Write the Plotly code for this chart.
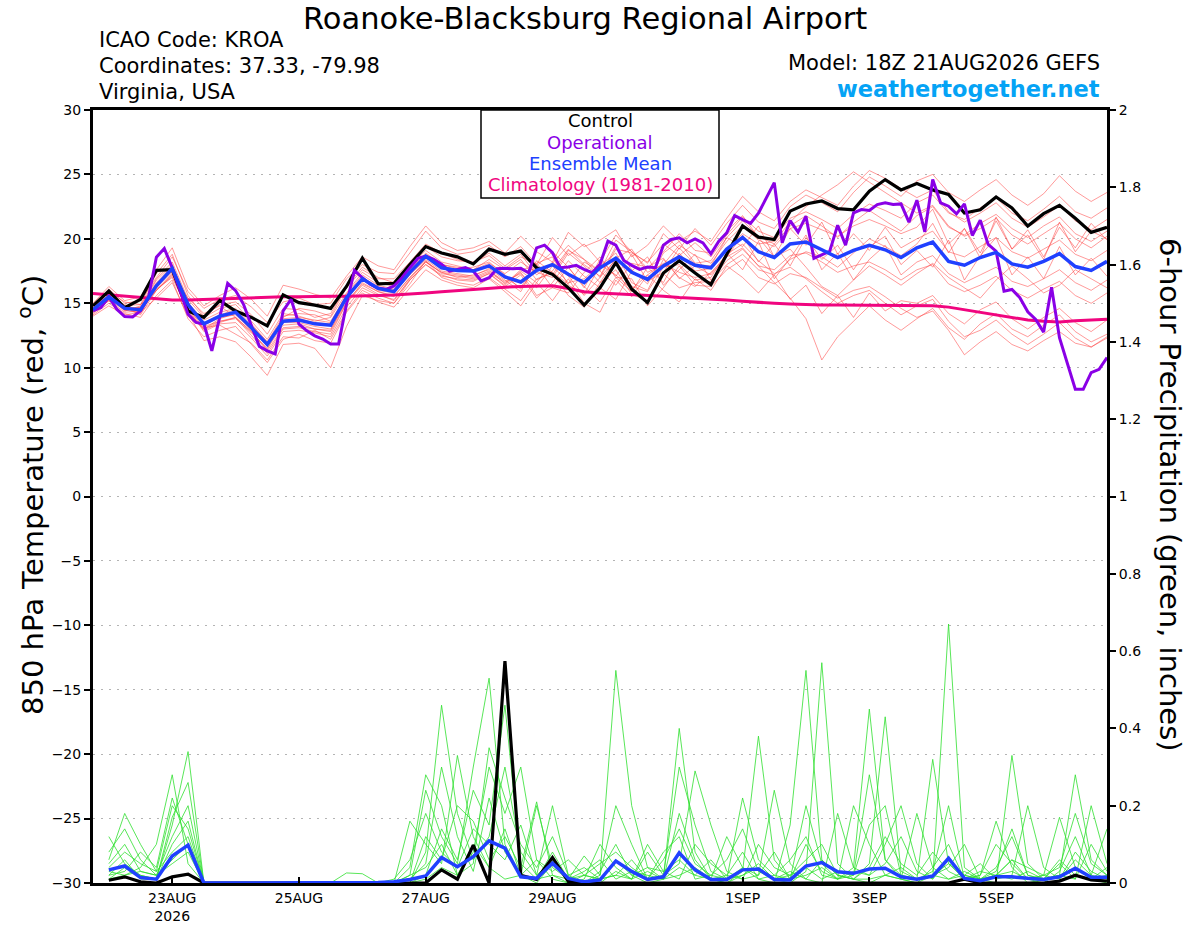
import pandas as pd
import plotly.graph_objects as go

# GEFS run 18Z 21AUG2026, 6-hourly out to 384 h (operational is 3-hourly)
RUN = "2026-08-21 18:00"
temp_times = pd.date_range(RUN, periods=65, freq="6h")
oper_times = pd.date_range(RUN, periods=129, freq="3h")
precip_times = pd.date_range("2026-08-22 00:00", periods=64, freq="6h")

tick_dates = ["2026-08-23", "2026-08-25", "2026-08-27", "2026-08-29",
              "2026-09-01", "2026-09-03", "2026-09-05"]
tick_labels = ["23AUG<br>2026", "25AUG", "27AUG", "29AUG", "1SEP", "3SEP", "5SEP"]

# 850 hPa temperature (C)
control_t = [14.8, 15.95, 14.65, 15.3, 17.55, 17.6, 14.4, 13.9, 15.2, 14.4, 13.9, 13.25, 15.65,
             15.05, 14.85, 14.6, 16.3, 18.5, 16.5, 16.55, 18.0, 19.4, 18.9, 18.6, 18.05, 19.2,
             18.8, 19.05, 17.75, 17.25, 16.2, 14.85, 16.2, 18.15, 16.1, 15.05, 17.35, 18.3, 17.35,
             16.45, 18.8, 21.0, 20.13, 19.95, 22.15, 22.7, 22.95, 22.35, 22.25, 23.7, 24.6, 23.8,
             24.3, 23.8, 23.45, 22.0, 22.25, 23.25, 22.4, 21.0, 21.95, 22.6, 21.6, 20.5, 20.9]

mean_t = [14.5, 15.5, 14.6, 14.5, 16.35, 17.7, 14.9, 13.4, 14.0, 14.3, 13.1, 11.8, 13.6,
          13.7, 13.4, 13.3, 15.45, 16.9, 16.15, 15.9, 17.4, 18.65, 17.75, 17.55, 17.5, 17.9,
          17.05, 16.65, 17.55, 18.0, 17.25, 16.6, 17.75, 18.5, 17.4, 16.85, 17.9, 18.6, 17.95,
          17.75, 19.2, 20.1, 19.0, 18.55, 19.6, 19.75, 19.15, 18.55, 19.1, 19.5, 19.15, 18.55,
          19.3, 19.75, 18.25, 17.95, 18.55, 18.95, 18.05, 17.8, 18.25, 18.85, 17.85, 17.55, 18.25]

clim_t = [15.75, 15.65, 15.55, 15.45, 15.3, 15.25, 15.25, 15.3, 15.35, 15.4, 15.45, 15.5, 15.5,
          15.5, 15.55, 15.55, 15.55, 15.55, 15.6, 15.65, 15.7, 15.8, 15.9, 16.0, 16.1, 16.2,
          16.25, 16.3, 16.35, 16.35, 16.15, 15.9, 15.8, 15.75, 15.65, 15.6, 15.55, 15.45, 15.4,
          15.3, 15.25, 15.15, 15.05, 15.0, 14.95, 14.9, 14.87, 14.87, 14.86, 14.85, 14.85, 14.85,
          14.85, 14.8, 14.7, 14.5, 14.25, 14.05, 13.9, 13.7, 13.6, 13.55, 13.65, 13.7, 13.75]

oper_t = [14.41, 14.66, 15.49, 14.54, 13.97, 13.94, 14.41, 15.44, 18.58, 19.25,
          17.76, 15.95, 14.15, 13.51, 13.38, 11.31, 13.89, 16.55, 15.98, 14.92,
          13.25, 11.65, 11.31, 11.06, 14.41, 15.31, 13.38, 12.86, 12.47, 12.22,
          11.83, 11.83, 14.92, 17.55, 16.98, 16.47, 16.16, 16.08, 16.34, 16.98,
          17.76, 18.48, 18.66, 18.4, 18.02, 17.5, 17.63, 17.76, 17.5, 16.73,
          16.98, 17.68, 17.71, 17.68, 17.71, 17.37, 19.3, 19.51, 18.92, 17.76,
          17.81, 17.94, 17.63, 17.37, 18.02, 19.82, 19.51, 18.32, 17.94, 17.63,
          17.81, 17.76, 19.51, 19.95, 20.08, 19.69, 20.0, 19.69, 18.84, 19.82,
          20.46, 21.8, 21.49, 21.2, 22.0, 23.18, 24.36, 19.69, 21.42, 20.52,
          21.76, 18.48, 18.79, 19.04, 21.06, 19.51, 22.02, 22.27, 22.2, 22.66,
          22.79, 22.66, 22.71, 21.29, 23.0, 20.54, 24.6, 22.79, 22.53, 21.94,
          22.71, 20.26, 21.45, 19.56, 19.04, 15.94, 16.07, 15.43, 14.34, 13.75,
          12.76, 16.25, 12.33, 10.26, 8.32, 8.32, 9.61, 9.87, 10.78]

members_t = [
    [14.9, 16.1, 15.0, 15.2, 17.0, 18.6, 15.9, 14.6, 15.3, 15.6, 14.7, 13.5, 15.1,
     15.4, 14.9, 15.0, 16.9, 18.0, 17.4, 17.3, 18.9, 20.6, 19.3, 18.8, 19.0, 19.5,
     18.6, 19.4, 18.0, 20.1, 18.7, 19.6, 18.2, 20.3, 19.0, 18.1, 20.4, 19.2, 20.8,
     19.5, 21.2, 22.6, 21.3, 20.8, 22.5, 23.4, 22.8, 22.1, 23.6, 24.8, 24.1, 23.3,
     24.5, 25.0, 23.6, 22.9, 23.8, 24.6, 23.4, 22.6, 23.5, 24.9, 23.7, 22.9, 23.6],
    [14.1, 15.0, 14.2, 13.9, 15.6, 16.8, 13.8, 12.4, 12.9, 13.2, 11.8, 10.4, 12.2,
     12.6, 12.1, 11.9, 14.3, 15.8, 15.1, 14.7, 16.2, 17.6, 16.8, 16.4, 16.2, 16.9,
     15.9, 14.8, 16.6, 15.2, 16.9, 15.0, 14.3, 16.8, 15.5, 17.2, 16.0, 15.1, 16.9,
     16.0, 17.9, 17.0, 15.8, 17.2, 15.3, 16.4, 14.2, 15.6, 13.9, 15.8, 14.4, 15.2,
     15.0, 15.6, 14.2, 13.4, 14.5, 15.1, 13.8, 13.0, 13.9, 14.6, 13.5, 12.8, 13.7],
    [14.6, 15.7, 14.4, 14.8, 16.9, 18.2, 15.3, 13.9, 14.6, 14.9, 13.6, 12.2, 14.2,
     14.0, 13.6, 13.9, 15.8, 17.4, 16.6, 16.3, 17.9, 19.1, 18.2, 17.9, 17.6, 18.4,
     17.6, 18.4, 16.8, 17.5, 19.2, 18.0, 17.1, 19.4, 17.6, 16.5, 18.9, 19.8, 18.1,
     18.3, 20.1, 21.4, 20.2, 19.6, 21.0, 21.8, 21.0, 20.1, 21.3, 22.2, 21.4, 20.6,
     21.8, 22.5, 20.9, 20.3, 21.2, 21.9, 20.8, 20.1, 21.0, 21.7, 20.4, 19.8, 20.6],
    [14.3, 15.3, 14.7, 14.1, 16.0, 17.3, 14.4, 12.9, 13.5, 13.9, 12.5, 11.1, 13.0,
     13.1, 12.8, 12.6, 15.0, 16.4, 15.7, 15.2, 16.9, 18.2, 17.4, 17.0, 17.2, 17.6,
     16.5, 17.6, 17.9, 16.2, 15.8, 17.4, 18.6, 17.0, 15.9, 17.8, 18.5, 16.9, 17.9,
     17.2, 18.6, 19.3, 17.9, 16.6, 15.4, 13.8, 10.6, 12.4, 13.6, 14.8, 13.7, 12.9,
     13.8, 14.6, 13.1, 12.2, 13.4, 14.2, 13.0, 12.4, 13.3, 14.1, 12.8, 12.0, 12.6],
    [14.8, 15.6, 14.5, 14.6, 16.6, 17.9, 15.1, 13.2, 13.6, 13.8, 12.7, 11.5, 13.3,
     13.4, 13.0, 12.9, 15.3, 16.8, 16.0, 15.8, 17.2, 18.4, 17.5, 17.3, 17.1, 17.7,
     16.8, 15.9, 18.1, 18.6, 16.4, 15.7, 17.9, 18.9, 16.6, 16.0, 18.4, 17.0, 16.3,
     17.4, 18.6, 20.3, 18.2, 19.6, 17.9, 20.1, 18.4, 19.5, 17.6, 19.4, 20.2, 18.0,
     19.1, 17.8, 19.9, 16.8, 18.7, 20.1, 17.2, 18.6, 16.9, 19.4, 17.2, 18.5, 17.1],
    [14.4, 15.4, 14.6, 14.3, 16.2, 17.4, 14.2, 12.1, 12.4, 12.0, 10.8, 9.4, 11.8,
     11.9, 11.5, 10.0, 13.2, 15.6, 15.2, 15.0, 16.8, 18.0, 17.2, 16.8, 16.7, 17.3,
     16.3, 17.2, 15.4, 16.6, 18.3, 17.1, 16.2, 15.3, 17.5, 18.6, 16.4, 17.6, 18.8,
     16.8, 18.3, 19.2, 17.9, 17.6, 18.7, 18.9, 18.2, 17.4, 17.9, 18.2, 17.6, 16.8,
     17.6, 18.0, 16.5, 15.9, 16.4, 17.1, 16.0, 15.4, 16.1, 16.7, 15.6, 15.0, 15.8],
    [15.0, 16.3, 15.2, 15.5, 17.6, 19.3, 16.2, 14.8, 15.6, 16.2, 15.3, 14.0, 16.4,
     16.1, 15.7, 15.4, 17.1, 18.6, 17.9, 17.6, 19.4, 21.0, 19.7, 19.1, 19.3, 19.8,
     18.9, 20.2, 19.0, 18.2, 20.5, 19.4, 19.9, 20.7, 18.6, 19.5, 21.0, 19.8, 20.6,
     19.8, 21.6, 23.3, 22.1, 21.4, 22.9, 23.8, 23.2, 22.6, 24.1, 25.3, 24.7, 23.9,
     23.2, 23.8, 22.1, 21.3, 22.0, 22.8, 21.6, 20.9, 21.7, 22.6, 21.4, 20.7, 21.5],
    [14.5, 15.2, 14.8, 14.9, 16.4, 17.6, 14.7, 13.0, 13.8, 14.2, 13.3, 12.0, 14.0,
     14.2, 14.1, 13.6, 15.6, 17.0, 16.2, 16.0, 17.6, 18.8, 18.0, 17.7, 17.8, 18.2,
     17.2, 16.1, 17.9, 19.0, 17.8, 16.2, 18.4, 17.1, 18.8, 16.7, 17.4, 19.3, 18.0,
     17.9, 20.1, 19.4, 21.0, 18.6, 20.8, 19.5, 21.3, 18.8, 20.4, 19.1, 20.9, 19.3,
     20.0, 20.6, 19.0, 18.6, 19.4, 20.1, 19.0, 18.5, 19.2, 19.9, 18.8, 18.3, 19.1],
    [14.2, 15.2, 14.3, 14.4, 16.1, 17.0, 14.5, 13.3, 13.9, 14.1, 12.9, 11.7, 13.5,
     13.5, 13.2, 13.0, 15.1, 16.5, 15.9, 15.5, 17.0, 18.3, 17.3, 17.1, 16.9, 17.4,
     16.6, 17.4, 15.6, 16.2, 17.8, 16.3, 15.1, 17.0, 16.9, 14.8, 16.2, 17.9, 16.4,
     16.3, 17.6, 18.4, 17.0, 16.5, 17.3, 17.0, 16.2, 15.4, 16.0, 16.3, 15.5, 14.6,
     13.9, 14.4, 12.9, 11.0, 12.0, 12.8, 11.8, 11.3, 12.1, 12.8, 11.9, 11.6, 12.4],
    [14.7, 15.9, 14.7, 14.6, 16.8, 18.0, 15.0, 13.7, 14.3, 14.6, 13.4, 12.0, 13.8,
     13.9, 13.7, 13.5, 15.7, 17.2, 16.4, 16.1, 17.6, 18.9, 18.0, 17.8, 17.6, 18.1,
     17.3, 18.2, 17.4, 17.0, 18.9, 17.9, 16.6, 18.5, 19.2, 17.4, 18.0, 19.5, 18.7,
     18.1, 19.8, 21.0, 19.9, 19.4, 20.8, 21.2, 20.7, 20.2, 21.0, 21.5, 21.0, 20.4,
     20.9, 22.3, 19.6, 20.8, 18.9, 21.4, 19.2, 20.7, 18.6, 20.9, 19.3, 21.2, 19.9],
    [14.6, 15.5, 14.4, 14.7, 16.5, 17.8, 14.8, 13.5, 14.1, 14.5, 13.2, 11.9, 13.7,
     13.8, 13.5, 13.4, 15.5, 17.0, 16.3, 16.0, 17.5, 18.7, 17.9, 17.6, 17.5, 18.0,
     17.0, 16.2, 18.3, 17.4, 16.5, 18.2, 17.5, 16.4, 18.1, 17.8, 16.6, 18.9, 17.5,
     17.7, 19.3, 20.4, 19.6, 19.8, 21.3, 22.5, 23.4, 24.2, 25.2, 24.4, 23.6, 22.8,
     22.0, 22.6, 21.0, 20.2, 20.8, 21.6, 20.3, 19.6, 20.4, 21.2, 20.0, 19.3, 20.2],
    [14.4, 15.6, 14.5, 14.2, 16.3, 17.5, 14.6, 12.8, 13.4, 13.5, 12.3, 10.9, 12.8,
     12.9, 12.7, 12.4, 14.7, 16.2, 15.6, 15.3, 16.8, 18.0, 17.1, 16.9, 16.8, 17.3,
     16.4, 17.5, 16.6, 18.2, 17.1, 15.6, 17.0, 18.4, 16.3, 15.9, 17.8, 18.0, 16.8,
     17.0, 18.9, 17.6, 19.8, 16.9, 18.5, 20.3, 17.6, 18.9, 16.8, 18.4, 19.5, 17.2,
     18.2, 18.7, 17.3, 16.6, 17.2, 17.8, 16.7, 16.3, 16.9, 17.6, 16.6, 16.0, 16.8],
    [14.6, 15.4, 14.9, 14.4, 16.0, 17.2, 15.4, 14.2, 14.8, 13.9, 12.8, 11.4, 13.9,
     14.6, 14.4, 14.0, 16.2, 17.6, 16.9, 16.9, 18.2, 19.6, 18.9, 18.4, 18.1, 18.9,
     17.9, 18.8, 17.2, 18.1, 19.5, 18.4, 17.5, 19.9, 19.0, 17.7, 19.0, 20.4, 19.1,
     18.9, 20.6, 21.8, 20.1, 18.6, 19.2, 17.8, 16.3, 15.6, 16.8, 17.9, 17.2, 16.4,
     17.3, 18.1, 17.0, 16.2, 15.4, 16.8, 17.9, 16.9, 15.8, 16.4, 17.6, 16.9, 16.2],
    [14.0, 14.8, 14.1, 14.3, 15.4, 16.6, 14.0, 13.1, 13.3, 12.6, 11.9, 10.6, 12.4,
     12.3, 12.9, 12.2, 14.4, 16.0, 15.4, 15.0, 16.5, 18.3, 17.0, 16.6, 16.4, 17.0,
     16.1, 15.2, 16.9, 17.3, 15.6, 14.7, 16.6, 17.6, 15.7, 15.2, 17.3, 16.2, 16.6,
     16.7, 18.0, 18.8, 17.6, 17.2, 18.4, 19.0, 18.6, 17.8, 18.9, 20.0, 19.4, 18.7,
     19.6, 21.2, 18.9, 20.8, 18.5, 21.7, 19.2, 20.3, 18.4, 21.3, 19.0, 20.6, 20.0],
    [14.9, 15.9, 15.1, 14.9, 17.3, 18.8, 15.6, 14.0, 14.9, 15.1, 14.1, 12.6, 14.6,
     14.5, 13.9, 14.2, 16.3, 17.8, 17.0, 16.6, 18.1, 19.4, 18.6, 18.3, 18.2, 18.7,
     17.7, 18.6, 18.0, 17.2, 19.1, 18.4, 17.0, 19.2, 18.9, 18.2, 19.6, 18.7, 19.7,
     18.6, 20.3, 21.7, 20.6, 20.1, 21.6, 22.1, 21.5, 20.8, 21.9, 22.7, 22.2, 21.6,
     22.8, 23.4, 22.0, 21.5, 22.4, 23.2, 22.0, 21.4, 22.3, 23.3, 22.1, 21.6, 22.4],
    [14.3, 15.2, 14.5, 14.7, 16.0, 17.1, 14.3, 13.0, 13.6, 13.9, 12.8, 11.3, 13.1,
     13.2, 13.0, 12.8, 15.0, 16.6, 15.9, 15.6, 17.0, 18.2, 17.4, 17.2, 17.0, 17.5,
     16.7, 17.3, 16.2, 17.9, 16.6, 16.9, 18.0, 17.2, 16.1, 17.2, 18.1, 17.4, 17.0,
     17.3, 18.8, 19.6, 18.3, 17.3, 17.8, 16.9, 15.9, 15.0, 15.6, 16.0, 15.0, 14.1,
     14.8, 15.3, 13.6, 12.4, 12.9, 13.7, 12.6, 11.8, 12.6, 13.5, 12.3, 11.6, 12.3],
]

# 6-hour precipitation (inches)
control_p = [0.007, 0.016, 0.003, 0.0, 0.016, 0.023, 0, 0, 0, 0, 0, 0, 0, 0, 0, 0,
             0, 0, 0, 0, 0, 0.034, 0.010, 0.098, 0.0, 0.574, 0.020, 0.009, 0.066, 0.004, 0, 0,
             0, 0, 0, 0, 0, 0, 0, 0, 0, 0, 0, 0, 0, 0, 0, 0,
             0, 0, 0, 0, 0, 0, 0.010, 0, 0, 0, 0, 0, 0.005, 0.020, 0.008, 0.005]

mean_p = [0.034, 0.044, 0.014, 0.010, 0.070, 0.098, 0.0, 0.0, 0.0, 0.0, 0.0, 0.0, 0.0, 0.0, 0.0, 0.002,
          0.002, 0.001, 0.003, 0.009, 0.018, 0.066, 0.042, 0.068, 0.109, 0.090, 0.016, 0.012, 0.051, 0.012, 0.003, 0.008,
          0.057, 0.030, 0.009, 0.016, 0.078, 0.034, 0.009, 0.009, 0.034, 0.036, 0.009, 0.008, 0.044, 0.053, 0.029, 0.025,
          0.036, 0.038, 0.016, 0.010, 0.018, 0.064, 0.012, 0.006, 0.016, 0.016, 0.012, 0.009, 0.016, 0.038, 0.015, 0.015]

members_p = [
    [0.06, 0.18, 0.10, 0.03, 0.08, 0.12, 0, 0, 0, 0, 0, 0, 0, 0, 0, 0,
     0, 0, 0, 0.02, 0.24, 0.12, 0.05, 0.30, 0.53, 0.10, 0.02, 0.0, 0.05, 0.01, 0, 0.03,
     0.10, 0.02, 0, 0.01, 0.40, 0.08, 0.01, 0, 0.02, 0.05, 0.01, 0, 0.03, 0.57, 0.05, 0.01,
     0, 0.02, 0.01, 0, 0.04, 0.10, 0.01, 0, 0.02, 0.06, 0.01, 0, 0.03, 0.12, 0.02, 0.01],
    [0.12, 0.05, 0.02, 0.01, 0.15, 0.34, 0, 0, 0, 0, 0, 0, 0, 0, 0, 0,
     0, 0, 0, 0, 0.08, 0.46, 0.18, 0.06, 0.12, 0.30, 0.08, 0.02, 0.20, 0.02, 0, 0,
     0.03, 0.01, 0.08, 0.02, 0.05, 0.29, 0.15, 0.03, 0.01, 0.02, 0.24, 0.05, 0.01, 0, 0.18, 0.04,
     0.45, 0.06, 0.01, 0, 0.02, 0.05, 0.01, 0.02, 0.16, 0.04, 0, 0.01, 0.02, 0.01, 0.20, 0.05],
    [0.02, 0.03, 0.08, 0.04, 0.22, 0.10, 0, 0, 0, 0, 0, 0, 0, 0, 0, 0.026,
     0.024, 0, 0, 0.16, 0.10, 0.05, 0.33, 0.12, 0.04, 0.01, 0.02, 0.01, 0.08, 0.01, 0.07, 0.02,
     0.55, 0.20, 0.04, 0.01, 0.02, 0.04, 0.01, 0, 0.03, 0.38, 0.06, 0.01, 0.02, 0.04, 0.01, 0.03,
     0.02, 0.10, 0.20, 0.05, 0.01, 0.67, 0.04, 0.01, 0.02, 0.03, 0.01, 0.02, 0.17, 0.04, 0.01, 0],
    [0.01, 0.04, 0.02, 0.01, 0.17, 0.26, 0, 0, 0, 0, 0, 0, 0, 0, 0, 0,
     0, 0, 0, 0, 0.02, 0.14, 0.06, 0.24, 0.15, 0.46, 0.05, 0.01, 0.02, 0, 0.01, 0.10,
     0.04, 0.01, 0.10, 0.03, 0.06, 0.02, 0.01, 0.12, 0.04, 0.01, 0, 0.15, 0.55, 0.06, 0.02, 0.01,
     0.05, 0.43, 0.03, 0.01, 0.02, 0.04, 0.10, 0.01, 0, 0.33, 0.05, 0.01, 0.02, 0.28, 0.06, 0.02],
    [0.08, 0.14, 0.06, 0.02, 0.05, 0.08, 0, 0, 0, 0, 0, 0, 0, 0, 0, 0,
     0, 0, 0, 0.04, 0.28, 0.20, 0.02, 0.08, 0.30, 0.18, 0.30, 0.06, 0.03, 0.06, 0.02, 0.01,
     0.02, 0.06, 0.01, 0.08, 0.12, 0.01, 0.02, 0.01, 0.22, 0.06, 0.02, 0.01, 0.10, 0.03, 0.01, 0.20,
     0.10, 0.02, 0.01, 0.18, 0.04, 0.01, 0.02, 0.05, 0.01, 0.02, 0.20, 0.04, 0.01, 0.06, 0.02, 0.14],
    [0.03, 0.02, 0.04, 0.10, 0.28, 0.05, 0, 0, 0, 0, 0, 0, 0, 0, 0, 0,
     0, 0, 0, 0.01, 0.05, 0.30, 0.12, 0.03, 0.22, 0.08, 0.02, 0.20, 0.04, 0.01, 0.03, 0.06,
     0.01, 0.03, 0.02, 0.01, 0.18, 0.06, 0.01, 0.02, 0.01, 0.10, 0.04, 0.02, 0.04, 0.01, 0.03, 0.02,
     0.28, 0.06, 0.02, 0.01, 0.32, 0.05, 0.02, 0.01, 0.04, 0.12, 0.02, 0.01, 0.06, 0.02, 0.01, 0.04],
    [0.05, 0.10, 0.03, 0.02, 0.12, 0.20, 0, 0, 0, 0, 0, 0, 0, 0, 0, 0,
     0, 0, 0, 0, 0.12, 0.06, 0.20, 0.16, 0.06, 0.12, 0.04, 0.21, 0.02, 0.01, 0, 0.02,
     0.20, 0.10, 0.01, 0.02, 0.30, 0.15, 0.03, 0.01, 0.04, 0.02, 0.08, 0.01, 0.20, 0.05, 0.01, 0.02,
     0.15, 0.20, 0.02, 0.01, 0.03, 0.20, 0.01, 0.02, 0.10, 0.05, 0.01, 0.02, 0.04, 0.18, 0.05, 0.02],
    [0.02, 0.06, 0.01, 0.01, 0.10, 0.16, 0, 0, 0, 0, 0, 0, 0, 0, 0, 0,
     0, 0, 0, 0.02, 0.04, 0.10, 0.02, 0.05, 0.35, 0.22, 0.10, 0.04, 0.12, 0.02, 0.04, 0.01,
     0.06, 0.02, 0.04, 0.03, 0.01, 0.10, 0.05, 0.02, 0.08, 0.01, 0.02, 0.06, 0.12, 0.02, 0.01, 0.04,
     0.02, 0.05, 0.12, 0.03, 0.01, 0.06, 0.02, 0.01, 0.03, 0.14, 0.02, 0.01, 0.05, 0.01, 0.10, 0.03],
    [0.04, 0.08, 0.05, 0.03, 0.20, 0.14, 0, 0, 0, 0, 0, 0, 0, 0, 0, 0,
     0, 0, 0.01, 0.06, 0.18, 0.08, 0.04, 0.14, 0.10, 0.06, 0.15, 0.02, 0.06, 0.01, 0.02, 0.05,
     0.08, 0.04, 0.01, 0.06, 0.14, 0.05, 0.02, 0.06, 0.14, 0.03, 0.01, 0.02, 0.06, 0.10, 0.02, 0.01,
     0.04, 0.12, 0.05, 0.02, 0.08, 0.03, 0.01, 0.03, 0.02, 0.06, 0.04, 0.02, 0.01, 0.08, 0.03, 0.01],
    [0.01, 0.02, 0.03, 0.02, 0.06, 0.10, 0, 0, 0, 0, 0, 0, 0, 0, 0, 0,
     0, 0, 0, 0, 0.01, 0.04, 0.02, 0.10, 0.04, 0.14, 0.02, 0.06, 0.01, 0, 0.02, 0.01,
     0.02, 0.01, 0.03, 0.01, 0.04, 0.02, 0.06, 0.01, 0.02, 0.04, 0.01, 0.03, 0.01, 0.06, 0.02, 0.01,
     0.01, 0.02, 0.04, 0.01, 0.02, 0.01, 0.03, 0.01, 0.02, 0.01, 0.03, 0.01, 0.02, 0.04, 0.01, 0.02],
]

FONT = "DejaVu Sans, Liberation Sans, sans-serif"
RED = "rgba(255,60,60,0.65)"
GREEN = "#2ee02e"
PURPLE = "#8a00e6"
BLUE = "#2040ff"
MAGENTA = "#f0057f"

fig = go.Figure()

for m in members_t:
    fig.add_trace(go.Scatter(x=temp_times, y=m, mode="lines",
                             line=dict(color=RED, width=0.8), hoverinfo="skip"))
fig.add_trace(go.Scatter(x=temp_times, y=clim_t, mode="lines",
                         line=dict(color=MAGENTA, width=3)))
fig.add_trace(go.Scatter(x=temp_times, y=control_t, mode="lines",
                         line=dict(color="black", width=3.2)))
fig.add_trace(go.Scatter(x=oper_times, y=oper_t, mode="lines",
                         line=dict(color=PURPLE, width=3)))
fig.add_trace(go.Scatter(x=temp_times, y=mean_t, mode="lines",
                         line=dict(color=BLUE, width=3.5)))

for m in members_p:
    fig.add_trace(go.Scatter(x=precip_times, y=m, mode="lines", yaxis="y2",
                             line=dict(color=GREEN, width=0.8), hoverinfo="skip"))
fig.add_trace(go.Scatter(x=precip_times, y=control_p, mode="lines", yaxis="y2",
                         line=dict(color="black", width=3.2)))
fig.add_trace(go.Scatter(x=precip_times, y=mean_p, mode="lines", yaxis="y2",
                         line=dict(color=BLUE, width=3.5)))

fig.update_layout(
    width=1200, height=927, autosize=False,
    margin=dict(l=93, r=93, t=110, b=44),
    paper_bgcolor="white", plot_bgcolor="white",
    font=dict(family=FONT, color="black"),
    showlegend=False,
    xaxis=dict(range=["2026-08-21 18:00", "2026-09-06 18:00"],
               tickvals=tick_dates, ticktext=tick_labels, automargin=False,
               ticks="inside", ticklen=6, tickwidth=1.5, tickcolor="black",
               tickfont=dict(size=14), showgrid=False, zeroline=False,
               showline=True, linewidth=3, linecolor="black", mirror=True),
    yaxis=dict(range=[-30, 30], dtick=5, ticks="outside", ticklen=6, tickwidth=1.5,
               tickcolor="black", tickfont=dict(size=14), showgrid=True, automargin=False,
               gridcolor="#b4b4b4", griddash="2px,6px", gridwidth=1, zeroline=False,
               showline=True, linewidth=3, linecolor="black"),
    yaxis2=dict(range=[0, 2], dtick=0.2, overlaying="y", side="right",
                ticks="outside", ticklen=6, tickwidth=1.5, tickcolor="black",
                tickfont=dict(size=14), showgrid=False, zeroline=False, automargin=False,
                showline=True, linewidth=3, linecolor="black"),
)


def px_x(px):
    return (px - 93) / 1014


def px_y(py):
    return (883 - py) / 773


def label(text, x, y, size, color="black", xanchor="center", angle=0):
    fig.add_annotation(text=text, xref="paper", yref="paper", x=px_x(x), y=px_y(y),
                       xanchor=xanchor, yanchor="middle", textangle=angle,
                       showarrow=False, font=dict(size=size, color=color))


# legend box
fig.add_shape(type="rect", xref="paper", yref="paper",
              x0=px_x(481), x1=px_x(719), y0=px_y(198), y1=1.0,
              line=dict(color="black", width=1.5), fillcolor="white", layer="above")
legend_items = [("Control", "black", 121), ("Operational", PURPLE, 142),
                ("Ensemble Mean", BLUE, 163), ("Climatology (1981-2010)", MAGENTA, 185)]
for text, color, ypx in legend_items:
    label(text, 600, ypx, 18, color)

label("Roanoke-Blacksburg Regional Airport", 585, 19, 30.5)
for text, ypx in [("ICAO Code: KROA", 40), ("Coordinates: 37.33, -79.98", 66),
                  ("Virginia, USA", 92)]:
    label(text, 97, ypx, 21, xanchor="left")
label("Model: 18Z 21AUG2026 GEFS", 1102, 63, 21, xanchor="right")
label("<b>weathertogether.net</b>", 1102, 89, 22.5, color="#05a3f5", xanchor="right")

label("850 hPa Temperature (red, <sup>o</sup>C)", 31, 495, 29, angle=-90)
label("6-hour Precipitation (green, inches)", 1170, 495, 29, angle=90)

# drop the default page margin so the figure sits at the window origin
fig.write_html("out.html", config={"displayModeBar": False},
               post_script="document.body.style.margin='0px';")
